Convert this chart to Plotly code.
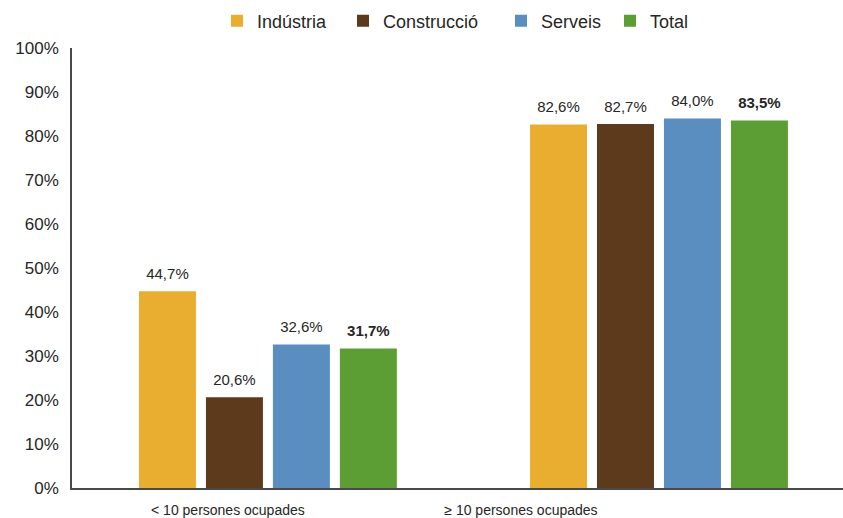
import plotly.graph_objects as go

categories = ["< 10 persones ocupades", "≥ 10 persones ocupades"]
series_names = ["Indústria", "Construcció", "Serveis", "Total"]
industria = [0.447, 0.826]
construccio = [0.206, 0.827]
serveis = [0.326, 0.840]
total = [0.317, 0.835]
series_values = [industria, construccio, serveis, total]
colors = ["#E9AE30", "#5E3A1C", "#5A8EC1", "#5D9E34"]
y_tickvals = [i / 10 for i in range(11)]
y_ticktext = [f"{i*10}%" for i in range(11)]

FONT = "Liberation Sans, Arial, sans-serif"
TXT = "#262626"
BARGAP = 0.315

def fmt(v):
    return f"{v*100:.1f}%".replace(".", ",")

fig = go.Figure()
legend_ids = ["legend", "legend2", "legend3", "legend4"]
for name, vals, col, lg in zip(series_names, series_values, colors, legend_ids):
    fig.add_trace(go.Bar(
        name=name, x=categories, y=vals, marker=dict(color=col, line=dict(width=0)),
        legend=lg, offsetgroup=name, hoverinfo="skip",
    ))
for name, vals in zip(series_names, series_values):
    bold = name == "Total"
    fig.add_trace(go.Scatter(
        x=categories, y=vals, mode="markers+text", offsetgroup=name, orientation="v",
        marker=dict(size=12, opacity=0), text=[fmt(v) for v in vals],
        texttemplate="<b>%{text}</b>" if bold else "%{text}",
        textposition="top center", cliponaxis=False, showlegend=False,
        textfont=dict(family=FONT, size=15, color=TXT), hoverinfo="skip",
    ))
# carrier for the category-label axis
fig.add_trace(go.Scatter(x=[0, 1], y=[0, 0], xaxis="x2", mode="markers",
                         marker=dict(opacity=0), showlegend=False, hoverinfo="skip"))

legend_x = [258, 384, 542, 651]
plot_left, plot_w = 72, 771
leg = {}
for lg, px in zip(legend_ids, legend_x):
    leg[lg] = dict(x=(px - 41 - plot_left) / plot_w, xanchor="left", y=1 + (48 - 21) / 440,
                   yanchor="middle", orientation="h", bgcolor="rgba(0,0,0,0)",
                   font=dict(family=FONT, size=18, color=TXT), borderwidth=0)

fig.update_layout(
    width=843, height=518,
    margin=dict(l=72, r=0, t=48, b=30, autoexpand=False),
    paper_bgcolor="white", plot_bgcolor="white",
    barmode="group", bargap=BARGAP, bargroupgap=0.149,
    scattermode="group", scattergap=BARGAP,
    font=dict(family=FONT, color=TXT),
    xaxis=dict(type="category", range=[-0.501, 1.4706], showticklabels=False,
               showline=True, linecolor="#4a4a4a", linewidth=1.5, ticks="", showgrid=False,
               zeroline=False),
    xaxis2=dict(overlaying="x", anchor="y", side="bottom", range=[-0.532, 2.099],
                tickvals=[0, 1], ticktext=categories, showline=False, showgrid=False,
                zeroline=False, ticks="", ticklabelstandoff=12,
                tickfont=dict(family=FONT, size=14, color=TXT)),
    yaxis=dict(range=[0, 1], tickvals=y_tickvals, ticktext=y_ticktext, showgrid=False,
               zeroline=False, showline=True, linecolor="#4a4a4a", linewidth=1.5, ticks="",
               ticklabelstandoff=8, tickfont=dict(family=FONT, size=17, color=TXT)),
    showlegend=True,
    **leg,
)
fig.write_html("out.html", config={"displayModeBar": False},
               post_script="document.body.style.margin='0';document.body.style.overflow='hidden';")
